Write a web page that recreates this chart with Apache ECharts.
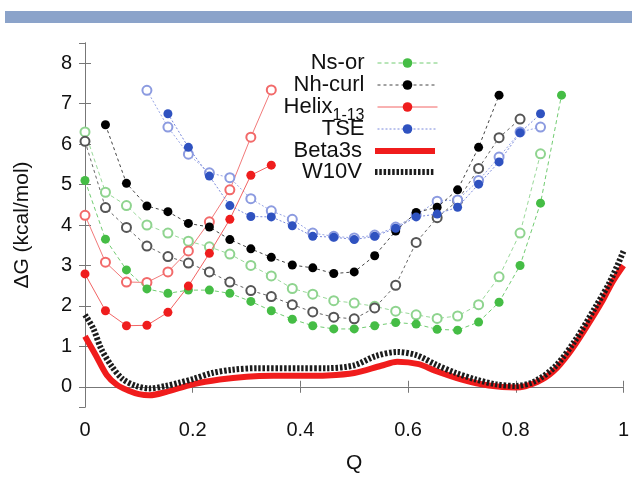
<!DOCTYPE html>
<html>
<head>
<meta charset="utf-8">
<style>
  html, body { margin: 0; padding: 0; background: #fff; }
  #main { width: 632px; height: 479px; }
</style>
<script src="https://cdn.jsdelivr.net/npm/echarts@6/dist/echarts.min.js"></script>
</head>
<body>
<div id="main"></div>
<script>
// Q = fraction of native contacts (k / 26)
var qPts = [0, 0.038, 0.077, 0.115, 0.154, 0.192, 0.231, 0.269, 0.308, 0.346, 0.385, 0.423,
  0.462, 0.5, 0.538, 0.577, 0.615, 0.654, 0.692, 0.731, 0.769, 0.808, 0.846, 0.885];

// 点数据（null = 没有点）
var nsOr = [5.10, 3.65, 2.89, 2.42, 2.31, 2.39, 2.39, 2.31, 2.11, 1.88, 1.67, 1.51,
  1.43, 1.43, 1.51, 1.59, 1.55, 1.42, 1.40, 1.60, 2.09, 3.00, 4.54, 7.21];
var nsOrOpen = [6.30, 4.81, 4.48, 4.00, 3.80, 3.60, 3.46, 3.28, 3.00, 2.74, 2.43, 2.29,
  2.13, 2.07, 1.99, 1.87, 1.78, 1.69, 1.75, 2.03, 2.72, 3.80, 5.76, null];
var nhCurl = [null, 6.48, 5.03, 4.47, 4.33, 4.04, 3.95, 3.64, 3.41, 3.20, 3.01, 2.94,
  2.80, 2.84, 3.24, 3.85, 4.31, 4.44, 4.87, 5.92, 7.21, null, null, null];
var nhCurlOpen = [6.07, 4.43, 3.94, 3.48, 3.22, 3.06, 2.84, 2.59, 2.38, 2.23, 2.03, 1.85,
  1.72, 1.68, 1.95, 2.51, 3.57, 4.18, 4.60, 5.40, 6.16, 6.62, null, null];
var helix = [2.79, 1.88, 1.51, 1.52, 1.84, 2.49, 3.30, 4.14, 5.23, 5.48];
var helixOpen = [4.24, 3.08, 2.59, 2.58, 2.84, 3.36, 4.08, 4.87, 6.17, 7.34];
var tse = [null, null, null, null, 6.75, 5.92, 5.21, 4.48, 4.21, 4.20, 3.98, 3.72,
  3.70, 3.64, 3.72, 3.92, 4.20, 4.27, 4.44, 5.01, 5.56, 6.28, 6.75, null];
var tseOpen = [null, null, null, 7.33, 6.42, 5.75, 5.29, 5.17, 4.65, 4.35, 4.14, 3.80,
  3.72, 3.68, 3.75, 3.95, 4.25, 4.59, 4.62, 5.10, 5.68, 6.30, 6.42, null];

// 连续曲线
var betaQ = [0, 0.02, 0.04, 0.06, 0.08, 0.1, 0.12, 0.15, 0.2, 0.25, 0.3, 0.35, 0.4, 0.45,
  0.5, 0.55, 0.58, 0.62, 0.65, 0.7, 0.75, 0.8, 0.84, 0.87, 0.9, 0.93, 0.96, 0.98, 1.0];
var beta3s = [1.25, 0.78, 0.30, 0.04, -0.09, -0.18, -0.21, -0.13, 0.06, 0.18, 0.25, 0.27,
  0.27, 0.28, 0.34, 0.52, 0.62, 0.56, 0.40, 0.18, 0.03, -0.02, 0.12, 0.38, 0.85, 1.45,
  2.1, 2.6, 3.0];
var w10vQ = [0, 0.015, 0.03, 0.05, 0.07, 0.095, 0.12, 0.15, 0.175, 0.2, 0.236, 0.273, 0.32,
  0.4, 0.45, 0.5, 0.54, 0.58, 0.616, 0.653, 0.689, 0.726, 0.763, 0.8, 0.836, 0.873, 0.91,
  0.947, 0.975, 1.0];
var w10v = [1.78, 1.45, 0.94, 0.50, 0.19, 0.02, -0.04, 0.02, 0.10, 0.19, 0.34, 0.42, 0.46,
  0.46, 0.46, 0.53, 0.76, 0.86, 0.78, 0.54, 0.34, 0.18, 0.06, 0.02, 0.14, 0.50, 1.14,
  1.95, 2.6, 3.35];

var xTicks = [0, 0.2, 0.4, 0.6, 0.8, 1];
var legendNames = ['Ns-or', 'Nh-curl', 'Helix', 'TSE', 'Beta3s', 'W10V'];

var FONT = "'Liberation Sans', Arial, Helvetica, sans-serif";

function pairs(xs, ys) {
  var out = [];
  for (var i = 0; i < ys.length; i++) {
    if (ys[i] != null) out.push([xs[i], ys[i]]);
  }
  return out;
}

function pointSeries(name, data, open, color, lineColor, dash, hollowColor) {
  return {
    name: name,
    type: 'line',
    data: pairs(qPts, data),
    symbol: open ? 'emptyCircle' : 'circle',
    symbolSize: 9,
    itemStyle: open ? { color: hollowColor, borderColor: hollowColor, borderWidth: 1.2 } : { color: color },
    lineStyle: { color: lineColor, width: 1, type: dash },
    z: open ? 2 : 3
  };
}

var axisGray = '#777';

var legendRows = [63, 85, 107, 129, 151, 172];
var legends = legendNames.map(function (n, i) {
  var isCurve = (n === 'Beta3s' || n === 'W10V');
  return {
    data: [n],
    orient: 'vertical',
    right: 194,
    top: legendRows[i] - 11,
    padding: 0,
    align: 'right',
    itemWidth: 60,
    itemHeight: 12,
    selectedMode: false,
    lineStyle: { width: isCurve ? 6 : 1 },
    // 粗线图例不要圆点
    itemStyle: isCurve ? { opacity: 0 } : {},
    textStyle: {
      fontFamily: FONT,
      fontSize: 22,
      lineHeight: 22,
      color: '#111',
      padding: [0, 8, 0, 0],
      rich: {
        a: { fontFamily: FONT, fontSize: 22, lineHeight: 22, verticalAlign: 'top', color: '#111' },
        b: { fontFamily: FONT, fontSize: 16, lineHeight: 16, padding: [12, 0, 0, 0], verticalAlign: 'top', color: '#111' }
      }
    },
    formatter: n === 'Helix' ? '{a|Helix}{b|1-13}' : n
  };
});

var chart = echarts.init(document.getElementById('main'));
chart.setOption({
  animation: false,
  backgroundColor: '#fff',
  graphic: [{
    type: 'rect',
    shape: { x: 5, y: 11, width: 627, height: 12 },
    style: { fill: '#8ba3ca' }
  }],
  grid: { left: 85, right: 4, top: 43, bottom: 63 },
  legend: legends,
  xAxis: [{
    type: 'value', min: 0, max: 1, interval: 0.2,
    name: 'Q', nameLocation: 'middle', nameGap: 46,
    nameTextStyle: { fontFamily: FONT, fontSize: 21, color: '#111' },
    axisLine: { lineStyle: { color: axisGray, width: 1 } },
    axisTick: { inside: true, length: 6, lineStyle: { color: axisGray } },
    axisLabel: { fontFamily: FONT, fontSize: 20, color: '#111', margin: 13 },
    splitLine: { show: false }
  }, {
    type: 'value', min: 0, max: 1, interval: 0.2, position: 'top',
    axisLine: { lineStyle: { color: axisGray, width: 1 } },
    axisTick: { inside: true, length: 6, lineStyle: { color: axisGray } },
    axisLabel: { show: false },
    splitLine: { show: false }
  }],
  yAxis: [{
    type: 'value', min: -0.5, max: 8.5, splitNumber: 9,
    name: 'ΔG (kcal/mol)', nameLocation: 'middle', nameGap: 52,
    nameTextStyle: { fontFamily: FONT, fontSize: 21, color: '#111' },
    axisLine: { show: true, lineStyle: { color: axisGray, width: 1 } },
    axisTick: { show: true, inside: true, length: 6, lineStyle: { color: axisGray } },
    axisLabel: { fontFamily: FONT, fontSize: 20, color: '#111', margin: 13, showMinLabel: false, showMaxLabel: false },
    splitLine: { show: false }
  }, {
    type: 'value', min: -0.5, max: 8.5, splitNumber: 9, position: 'right',
    axisLine: { show: true, lineStyle: { color: axisGray, width: 1 } },
    axisTick: { show: true, inside: true, length: 6, lineStyle: { color: axisGray } },
    axisLabel: { show: false },
    splitLine: { show: false }
  }],
  series: [
    pointSeries('Ns-or-open', nsOrOpen, true, null, '#9ad99a', [4, 3], '#8fd48f'),
    pointSeries('Nh-curl-open', nhCurlOpen, true, null, '#666', [3, 3], '#555'),
    pointSeries('Helix-open', helixOpen, true, null, '#f27a7a', 'solid', '#f26a6a'),
    pointSeries('TSE-open', tseOpen, true, null, '#99a6e6', [2, 2], '#8c9be0'),
    pointSeries('Ns-or', nsOr, false, '#45bd45', '#72cc72', [4, 3]),
    pointSeries('Nh-curl', nhCurl, false, '#000', '#444', [3, 3]),
    pointSeries('Helix', helix, false, '#ef1d1d', '#f26464', 'solid'),
    pointSeries('TSE', tse, false, '#2f52c0', '#7a89dc', [2, 2]),
    {
      name: 'Beta3s', type: 'line', data: pairs(betaQ, beta3s),
      symbol: 'none', smooth: 0.3,
      lineStyle: { color: '#f01c1c', width: 6 },
      itemStyle: { color: '#f01c1c' },
      z: 4
    },
    {
      name: 'W10V', type: 'line', data: pairs(w10vQ, w10v),
      symbol: 'none', smooth: 0.3,
      lineStyle: { color: '#1c1c1c', width: 6, type: [2.5, 1.8] },
      itemStyle: { color: '#1c1c1c' },
      z: 5
    }
  ]
});
</script>
</body>
</html>
